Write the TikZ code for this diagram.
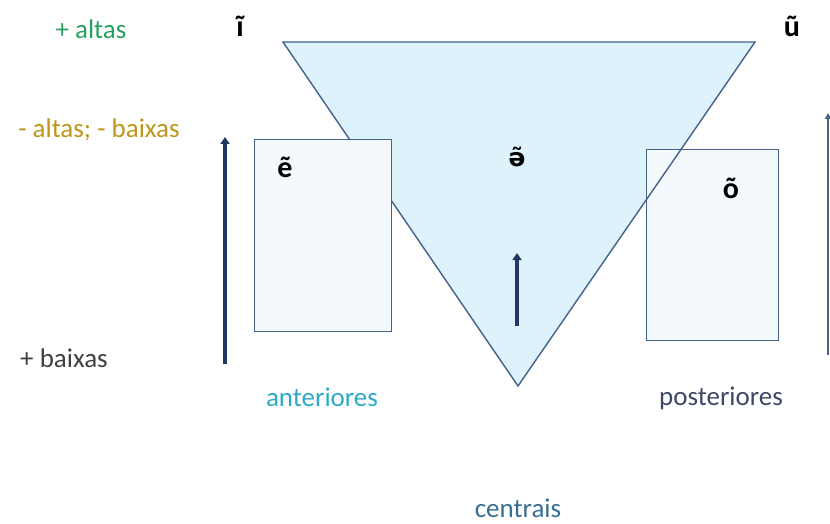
\documentclass[tikz,border=0pt]{standalone}
\usepackage{fontspec}
\setmainfont{Carlito}
\newfontfamily\ipafont{DejaVu Sans}
\usetikzlibrary{arrows.meta}
\definecolor{cgreen}{RGB}{40,160,95}
\definecolor{cgold}{RGB}{190,150,25}
\definecolor{cgray}{RGB}{64,64,64}
\definecolor{ccyan}{RGB}{45,170,200}
\definecolor{cpost}{RGB}{60,72,102}
\definecolor{ccent}{RGB}{55,110,150}
\definecolor{trifill}{RGB}{222,242,251}
\definecolor{edge}{RGB}{68,98,138}
\definecolor{boxfill}{RGB}{244,249,253}
\definecolor{navy}{RGB}{31,56,100}
\tikzset{
  lbl/.style={font=\fontsize{27}{30}\selectfont, inner sep=0pt},
  vowel/.style={font=\fontsize{30}{32}\selectfont\bfseries, text=black, inner sep=0pt},
  vbox/.style={draw=edge, line width=1.4pt, fill=boxfill},
  bigarrow/.style={draw=navy, line width=3.8pt, -{Triangle[length=7pt,width=9pt]}},
  thinarrow/.style={draw=edge, line width=2pt, -{Triangle[length=6pt,width=6pt]}}
}
\begin{document}
\begin{tikzpicture}[x=1pt,y=-1pt]
\useasboundingbox (0,0) rectangle (830,524);
% triangle
\coordinate (tl) at (283,42);
\coordinate (tr) at (755,42);
\coordinate (bt) at (518,386);
\fill[trifill] (tl) -- (tr) -- (bt) -- cycle;
% right box under the triangle outline
\node[vbox, minimum width=132pt, minimum height=191pt, anchor=north west, inner sep=0pt] (rbox) at (646,149) {};
\draw[edge, line width=1.4pt, line join=miter] (tl) -- (tr) -- (bt) -- cycle;
% left box
\node[vbox, minimum width=137pt, minimum height=192pt, anchor=north west, inner sep=0pt] (lbox) at (254,139) {};
% vowels
\node[vowel] (vi) at (240,26) {ĩ};
\node[vowel] (vu) at (792,26) {ũ};
\node[vowel] (ve) at (285,167) {ẽ};
\node[vowel] (vo) at (731,188) {õ};
\node[vowel, font=\ipafont\fontsize{25}{28}\selectfont\bfseries] (vc) at (517,157) {ə̃};
% labels
\node[lbl, text=cgreen] (altas) at (91,29) {+ altas};
\node[lbl, text=cgold] (meio) at (99,130) {- altas; - baixas};
\node[lbl, text=cgray] (baixas) at (64,358) {+ baixas};
\node[lbl, text=ccyan] (ant) at (322,397) {anteriores};
\node[lbl, text=cpost] (post) at (721,398) {posteriores};
\node[lbl, text=ccent] (cent) at (518,508) {centrais};
% arrows
\coordinate (la0) at (225,364);
\coordinate (la1) at (225,137);
\draw[bigarrow] (la0) -- (la1);
\coordinate (ca0) at (517,326);
\coordinate (ca1) at (517,253);
\draw[bigarrow] (ca0) -- (ca1);
\coordinate (ra0) at (828,355);
\coordinate (ra1) at (828,113);
\draw[thinarrow] (ra0) -- (ra1);
\end{tikzpicture}
\end{document}
